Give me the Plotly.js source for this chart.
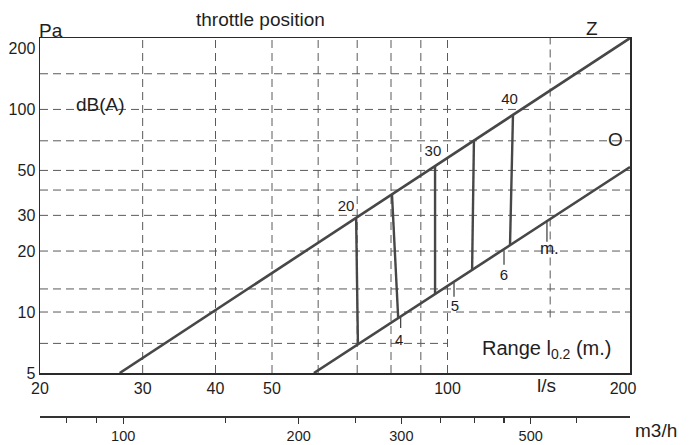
<!DOCTYPE html>
<html><head><meta charset="utf-8">
<script src="https://cdn.plot.ly/plotly-3.0.1.min.js"></script>
<style>html,body{margin:0;padding:0;background:#fff}#chart{width:697px;height:445px}</style>
</head><body><div id="chart"></div>
<script>
// ---- tick labels ----
const xTickVals = [20, 30, 40, 50, 100, 200];
const yTickVals = [5, 10, 20, 30, 50, 100, 200];
const m3hLabelVals = [100, 200, 300, 500];
const m3hTickVals = [80, 90, 100, 150, 200, 250, 300, 350, 400, 450, 500, 600];
// ---- grid positions ----
const xGrid = [30, 40, 50, 60, 70, 80, 90, 100];
const yGrid = [10, 13, 20, 30, 40, 50, 70, 100, 150];
const xGridShort = [150];      const xGridShortFrom = [9.4];
const yGridShort = [7];        const yGridShortTo = [100];
// ---- curves Z and O (l/s, Pa) ----
const zX = [27.4, 205.6];  const zY = [5, 225];
const oX = [59, 205.6];    const oY = [5, 52];
// ---- throttle position lines ----
const throttleTopX = [69.7, 80.3, 95.2, 111.0, 129.5];
const throttleTopY = [29.1, 38.2, 52.6, 70.7, 93.9];
const throttleBotX = [70.2, 82.3, 95.2, 110.2, 128.0];
const throttleBotY = [6.95, 9.35, 12.3, 16.1, 21.4];
const throttleLabels = ['20', '30', '40'];
const throttleLabelX = [67, 94.4, 127.8];
const throttleLabelY = [33, 61.7, 111.3];
// ---- range l0.2 marks ----
const rangeTickX = [83.1, 102.6, 125.0, 148.1];
const rangeTickTopY = [9.45, 13.9, 20.2, 28.5];
const rangeTickBotY = [8.34, 11.9, 17.1, 22.2];
const rangeLabels = ['4', '5', '6'];
const rangeLabelX = [82.6, 103.0, 125.0];
const rangeLabelY = [7.19, 10.5, 15.1];
const unitLabel = ['m.'];
const unitLabelX = [149.5];
const unitLabelY = [20.4];

const xRange = [Math.log10(20), 2.313];
const yRange = [Math.log10(5), 2.3526];
const LPS_TO_M3H = 3.6;

const lineCol = '#474747';
const gridCol = '#5a5a5a';
const txtCol = '#1e1e1e';
const narrow = 'Liberation Sans Narrow, Arial Narrow, Liberation Sans, Arial, sans-serif';
const regular = 'Liberation Sans, Arial, sans-serif';

function segs(x0, y0, x1, y1) {
  const xs = [], ys = [];
  for (let i = 0; i < x0.length; i++) { xs.push(x0[i], x1[i], null); ys.push(y0[i], y1[i], null); }
  return {xs, ys};
}
const th = segs(throttleTopX, throttleTopY, throttleBotX, throttleBotY);
const rt = segs(rangeTickX, rangeTickTopY, rangeTickX, rangeTickBotY);

const traces = [
  {x: zX, y: zY, mode: 'lines', line: {color: lineCol, width: 2.6}, hoverinfo: 'skip'},
  {x: oX, y: oY, mode: 'lines', line: {color: lineCol, width: 2.6}, hoverinfo: 'skip'},
  {x: th.xs, y: th.ys, mode: 'lines', line: {color: lineCol, width: 2.4}, connectgaps: false, hoverinfo: 'skip'},
  {x: rt.xs, y: rt.ys, mode: 'lines', line: {color: lineCol, width: 1.3}, connectgaps: false, hoverinfo: 'skip'},
  {x: throttleLabelX, y: throttleLabelY, text: throttleLabels, mode: 'text', textposition: 'middle center',
   textfont: {family: narrow, size: 15, color: txtCol}, hoverinfo: 'skip'},
  {x: rangeLabelX, y: rangeLabelY, text: rangeLabels, mode: 'text', textposition: 'middle center',
   textfont: {family: narrow, size: 15, color: txtCol}, hoverinfo: 'skip'},
  {x: unitLabelX, y: unitLabelY, text: unitLabel, mode: 'text', textposition: 'middle center',
   textfont: {family: regular, size: 17, color: txtCol}, hoverinfo: 'skip'},
  {x: [], y: [], xaxis: 'x2', yaxis: 'y', mode: 'lines', hoverinfo: 'skip'},
  {x: [], y: [], xaxis: 'x3', yaxis: 'y', mode: 'lines', hoverinfo: 'skip'}
];

const dash = {color: gridCol, width: 1, dash: '8px,5px'};
const shapes = [];
xGrid.forEach(v => shapes.push({type: 'line', layer: 'below', xref: 'x', yref: 'y domain', x0: v, x1: v, y0: 0, y1: 1, line: dash}));
yGrid.forEach(v => shapes.push({type: 'line', layer: 'below', xref: 'x domain', yref: 'y', x0: 0, x1: 1, y0: v, y1: v, line: dash}));
xGridShort.forEach((v, i) => shapes.push({type: 'line', layer: 'below', xref: 'x', yref: 'y', x0: v, x1: v,
  y0: xGridShortFrom[i], y1: Math.pow(10, yRange[1]), line: dash}));
yGridShort.forEach((v, i) => shapes.push({type: 'line', layer: 'below', xref: 'x', yref: 'y',
  x0: Math.pow(10, xRange[0]), x1: yGridShortTo[i], y0: v, y1: v, line: dash}));

const annFont = {family: regular, size: 19, color: txtCol};
const annotations = [
  {text: 'throttle position', xref: 'paper', yref: 'paper', x: 0.3729, y: 1.0474, showarrow: false, xanchor: 'center', yanchor: 'middle', font: annFont},
  {text: 'Pa', xref: 'paper', yref: 'paper', x: -0.0051, y: 1.021, showarrow: false, xanchor: 'left', yanchor: 'middle', font: annFont},
  {text: 'dB(A)', xref: 'paper', yref: 'paper', x: 0.1017, y: 0.8263, showarrow: false, xanchor: 'center', yanchor: 'middle', font: annFont},
  {text: 'Z', xref: 'paper', yref: 'paper', x: 0.9356, y: 1.0263, showarrow: false, xanchor: 'center', yanchor: 'middle', font: annFont},
  {text: 'O', xref: 'paper', yref: 'paper', x: 0.9746, y: 0.7316, showarrow: false, xanchor: 'center', yanchor: 'middle', font: annFont},
  {text: 'Range l<sub>0.2</sub> (m.)', xref: 'paper', yref: 'paper', x: 0.9729, y: 0.18, showarrow: false, xanchor: 'right', yanchor: 'middle', font: {family: regular, size: 20, color: txtCol}},
  {text: 'l/s', xref: 'paper', yref: 'paper', x: 0.859, y: 0.0868, showarrow: false, xanchor: 'center', yanchor: 'middle', font: annFont},
  {text: 'm3/h', xref: 'paper', yref: 'paper', x: 1.005, y: -0.0316, showarrow: false, xanchor: 'left', yanchor: 'middle', font: annFont}
];

const tickFont = {family: narrow, size: 16, color: txtCol};
const m3hRange = [xRange[0] + Math.log10(LPS_TO_M3H), xRange[1] + Math.log10(LPS_TO_M3H)];
const layout = {
  width: 697, height: 445,
  margin: {l: 40, r: 67, t: 38, b: 27, pad: 0},
  paper_bgcolor: '#fff', plot_bgcolor: '#fff', showlegend: false,
  xaxis: {type: 'log', range: xRange, domain: [0, 1], anchor: 'y', tickvals: xTickVals, ticktext: xTickVals.map(String),
    showgrid: false, zeroline: false, showline: true, mirror: true, linecolor: '#2a2a2a', linewidth: 1.5, ticks: '', tickfont: tickFont},
  yaxis: {type: 'log', range: yRange, domain: [0.1184, 1], anchor: 'x', tickvals: yTickVals, ticktext: yTickVals.map(String),
    showgrid: false, zeroline: false, showline: true, mirror: true, linecolor: '#2a2a2a', linewidth: 1.5, ticks: '', tickfont: tickFont},
  xaxis2: {type: 'log', overlaying: 'x', anchor: 'free', position: 0.004, range: m3hRange,
    tickvals: m3hLabelVals, ticktext: m3hLabelVals.map(String), ticks: 'outside', ticklen: 6, tickwidth: 1.2, tickcolor: '#333',
    showline: true, linecolor: '#333', linewidth: 1.5, showgrid: false, zeroline: false,
    tickfont: {family: narrow, size: 14.5, color: txtCol}},
  xaxis3: {type: 'log', overlaying: 'x', anchor: 'free', position: 0.004, range: m3hRange,
    tickvals: m3hTickVals, showticklabels: false, ticks: 'outside', ticklen: 6, tickwidth: 1.2, tickcolor: '#333',
    showline: false, showgrid: false, zeroline: false},
  shapes: shapes,
  annotations: annotations
};
Plotly.newPlot('chart', traces, layout, {staticPlot: true, displayModeBar: false});
</script>
</body></html>
